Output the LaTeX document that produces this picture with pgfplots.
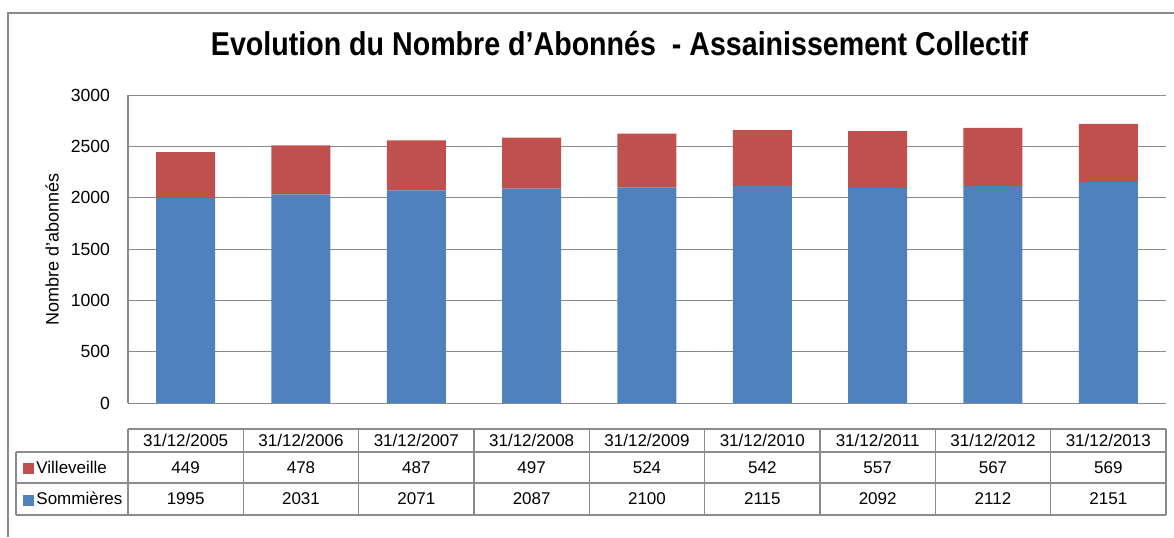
\documentclass[border=0pt]{standalone}
\usepackage{pgfplots}
\pgfplotsset{compat=1.18}
\usepackage{pgfplotstable}
\usepackage{fontspec}
\setmainfont{Liberation Sans}
\definecolor{sblue}{HTML}{4F81BD}
\definecolor{vred}{HTML}{C0504D}
\definecolor{gridgray}{HTML}{8A8A8A}
\definecolor{tabgray}{HTML}{8C8C8C}

\pgfplotstableread{
x date V S
0 31/12/2005 449 1995
1 31/12/2006 478 2031
2 31/12/2007 487 2071
3 31/12/2008 497 2087
4 31/12/2009 524 2100
5 31/12/2010 542 2115
6 31/12/2011 557 2092
7 31/12/2012 567 2112
8 31/12/2013 569 2151
}\data

\begin{document}
\begin{tikzpicture}
\useasboundingbox (0,0) rectangle (587pt,-268.5pt);
\draw[gridgray, line width=1pt] (3.75pt,-268.5pt) -- (3.75pt,-6.5pt) -- (587pt,-6.5pt);

\begin{axis}[
  scale only axis, width=519pt, height=154pt,
  at={(64pt,-201.5pt)}, anchor=south west,
  xmin=-0.5, xmax=8.5, ymin=0, ymax=3000,
  ytick={0,500,...,3000},
  axis x line=none, axis y line*=left,
  y axis line style={gridgray, line width=0.9pt, -},
  ymajorgrids, grid style={gridgray, line width=0.5pt},
  major tick length=0pt,
  ybar stacked, bar width=29.5pt,
  /pgf/number format/assume math mode=true,
  /pgf/number format/1000 sep={},
  yticklabel style={font=\fontsize{8.8}{10}\selectfont, xshift=-5.5pt},
  ylabel={Nombre d'abonnés},
  ylabel style={font=\fontsize{9}{10}\selectfont, at={(axis description cs:-0.0732,0.5)}, anchor=center},
  every axis title shift=0pt,
  title={\scalebox{0.867}[1]{\fontsize{16.5}{18}\selectfont\bfseries Evolution du Nombre d'Abonnés\ \ - Assainissement Collectif}},
  title style={at={(axis description cs:0.5,1)}, anchor=base, yshift=20pt, xshift=-13.75pt},
]
\addplot[fill=sblue, draw=none] table[x=x, y=S] {\data};
\addplot[fill=vred, draw=none] table[x=x, y=V] {\data};
\end{axis}

\begin{axis}[
  scale only axis, width=519pt, height=43pt,
  at={(64pt,-257.5pt)}, anchor=south west,
  xmin=-0.5, xmax=8.5, ymin=429, ymax=515, y dir=reverse,
  hide axis, clip=false,
  every node near coord/.append style={anchor=center, inner sep=0pt, font=\fontsize{8.5}{10}\selectfont},
]
\addplot[draw=none, mark=none, nodes near coords, point meta=explicit symbolic] table[x=x, y expr=440.5, meta=date] {\data};
\addplot[draw=none, mark=none, nodes near coords, point meta=explicit symbolic] table[x=x, y expr=467.5, meta=V] {\data};
\addplot[draw=none, mark=none, nodes near coords, point meta=explicit symbolic] table[x=x, y expr=499, meta=S] {\data};
\draw[tabgray, line width=0.75pt] (axis cs:-0.5,429) -- (axis cs:8.5,429);
\draw[tabgray, line width=0.75pt] (axis cs:-1.471,452) -- (axis cs:8.5,452);
\draw[tabgray, line width=0.75pt] (axis cs:-1.471,483) -- (axis cs:8.5,483);
\draw[tabgray, line width=0.9pt] (axis cs:-1.471,515) -- (axis cs:8.5,515);
\draw[tabgray, line width=0.75pt] (axis cs:-1.471,452) -- (axis cs:-1.471,515);
\pgfplotsinvokeforeach{-0.5,0.5,1.5,2.5,3.5,4.5,5.5,6.5,7.5,8.5}{
  \draw[tabgray, line width=0.75pt] (axis cs:#1,429) -- (axis cs:#1,515);
}
\node[anchor=west, inner sep=0pt, xshift=3.5pt, font=\fontsize{8.5}{10}\selectfont] at (axis cs:-1.471,467.5) {\textcolor{vred}{\rule[-0.3pt]{5.5pt}{5.5pt}}\hspace{1pt}Villeveille};
\node[anchor=west, inner sep=0pt, xshift=3.5pt, font=\fontsize{8.5}{10}\selectfont] at (axis cs:-1.471,499) {\textcolor{sblue}{\rule[-0.3pt]{5.5pt}{5.5pt}}\hspace{1pt}Sommières};
\end{axis}
\end{tikzpicture}
\end{document}
